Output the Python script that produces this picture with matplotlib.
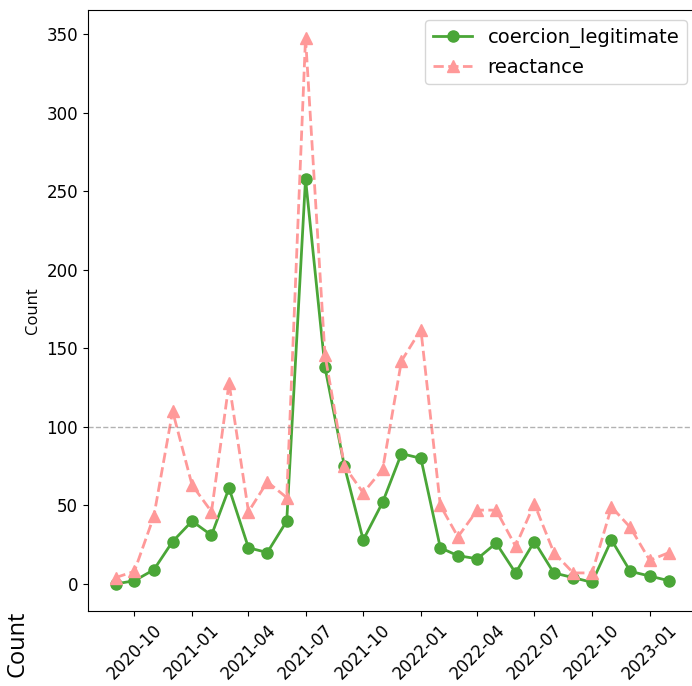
import numpy as np
import pandas as pd
import matplotlib
matplotlib.use("Agg")
import matplotlib.pyplot as plt
import matplotlib.dates as mdates

# monthly counts, Sep 2020 .. Feb 2023
months = pd.date_range("2020-09-01", "2023-02-01", freq="MS")
coercion_legitimate = [0, 2, 9, 27, 40, 31, 61, 23, 20, 40,
                       258, 138, 75, 28, 52, 83, 80, 23, 18, 16,
                       26, 7, 27, 7, 4, 1, 28, 8, 5, 2]
reactance = [4, 8, 43, 110, 63, 46, 128, 46, 65, 55,
             348, 146, 75, 58, 73, 142, 162, 50, 30, 47,
             47, 24, 51, 20, 7, 7, 49, 36, 15, 20]
threshold = 100

fig = plt.figure(figsize=(6.92, 6.86), dpi=100)
ax = fig.add_axes([0.127, 0.109, 0.880, 0.876])

ax.plot(months, coercion_legitimate, color="#4aa637", marker="o",
        markersize=8, linewidth=2, label="coercion_legitimate")
ax.plot(months, reactance, color="#ff9999", marker="^", linestyle="--",
        markersize=9, linewidth=2, label="reactance")
ax.axhline(threshold, color="gray", linestyle="--", linewidth=1, alpha=0.6)

ax.xaxis.set_major_locator(mdates.MonthLocator(bymonth=(1, 4, 7, 10)))
ax.xaxis.set_major_formatter(mdates.DateFormatter("%Y-%m"))
ax.tick_params(labelsize=12)
plt.setp(ax.get_xticklabels(), rotation=45)

ax.set_ylabel("Count", fontsize=12, family="Open Sans", labelpad=4)
ax.legend(loc="upper right", fontsize=14, borderaxespad=0.5)

fig.text(0.025, 0.062, "Count", rotation=90, fontsize=17,
         family="Open Sans", ha="center", va="center")

fig.savefig("out.png", dpi=100)
